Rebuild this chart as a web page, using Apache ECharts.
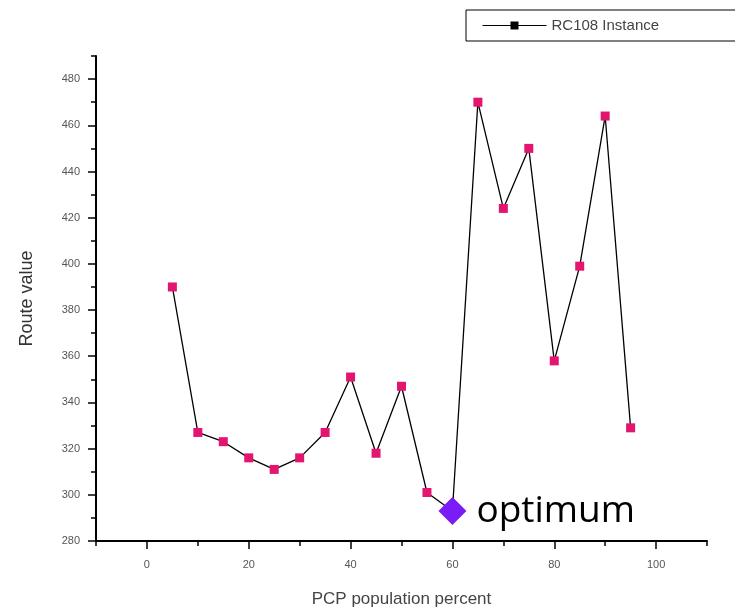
<!DOCTYPE html>
<html>
<head>
<meta charset="utf-8">
<script src="https://cdn.jsdelivr.net/npm/echarts@6/dist/echarts.min.js"></script>
<style>
  html, body { margin: 0; padding: 0; background: #fff; }
  #chart { width: 735px; height: 616px; }
</style>
</head>
<body>
<div id="chart"></div>
<script>
// population percent (x) and route value (y)
const percents = [5, 10, 15, 20, 25, 30, 35, 40, 45, 50, 55, 60, 65, 70, 75, 80, 85, 90, 95];
const routeValues = [390, 327, 323, 316, 311, 316, 327, 351, 318, 347, 301, 293, 470, 424, 450, 358, 399, 464, 329];
const optimumPoint = [60, 293];
const xMajorTicks = [0, 20, 40, 60, 80, 100];
const xMinorTicks = [-10, 10, 30, 50, 70, 90, 110];
const yMajorTicks = [280, 300, 320, 340, 360, 380, 400, 420, 440, 460, 480];
const yMinorTicks = [290, 310, 330, 350, 370, 390, 410, 430, 450, 470, 490];
const seriesName = "RC108 Instance";

const chart = echarts.init(document.getElementById("chart"));

const labelFont = { color: "#555", fontSize: 11, fontFamily: "Liberation Sans" };

const option = {
  backgroundColor: "#fff",
  animation: false,
  grid: { left: 96, right: 28, top: 56, bottom: 75 },
  legend: {
    left: 466,
    top: 10,
    padding: [8, 80, 8, 16],
    borderColor: "#000",
    borderWidth: 1,
    itemWidth: 64,
    itemHeight: 10,
    itemGap: 0,
    textStyle: { color: "#444", fontSize: 15, fontFamily: "Liberation Sans" },
    data: [{ name: seriesName, itemStyle: { color: "#000" }, lineStyle: { color: "#000", width: 1 } }],
  },
  xAxis: [
    {
      type: "value",
      min: -10,
      max: 110,
      name: "PCP population percent",
      nameLocation: "middle",
      nameGap: 50,
      nameTextStyle: { color: "#444", fontSize: 17, fontFamily: "Liberation Sans" },
      axisLine: { onZero: false, lineStyle: { color: "#000", width: 2 } },
      axisTick: { customValues: xMajorTicks, length: 8, lineStyle: { color: "#000", width: 1.5 } },
      axisLabel: { customValues: xMajorTicks, margin: 18, ...labelFont },
      splitLine: { show: false },
    },
    {
      type: "value",
      min: -10,
      max: 110,
      position: "bottom",
      offset: 0,
      axisLine: { show: false, onZero: false },
      axisTick: { customValues: xMinorTicks, length: 5, lineStyle: { color: "#000", width: 1.5 } },
      axisLabel: { show: false },
      splitLine: { show: false },
    },
  ],
  yAxis: [
    {
      type: "value",
      min: 280,
      max: 490,
      name: "Route value",
      nameLocation: "middle",
      nameGap: 60,
      nameTextStyle: { color: "#333", fontSize: 18, fontFamily: "Liberation Sans" },
      axisLine: { show: true, onZero: false, lineStyle: { color: "#000", width: 2 } },
      axisTick: { show: true, customValues: yMajorTicks, length: 8, lineStyle: { color: "#000", width: 1.5 } },
      axisLabel: { customValues: yMajorTicks, margin: 16, ...labelFont },
      splitLine: { show: false },
    },
    {
      type: "value",
      min: 280,
      max: 490,
      position: "left",
      offset: 0,
      axisLine: { show: false, onZero: false },
      axisTick: { show: true, customValues: yMinorTicks, length: 5, lineStyle: { color: "#000", width: 1.5 } },
      axisLabel: { show: false },
      splitLine: { show: false },
    },
  ],
  series: [
    {
      name: seriesName,
      type: "line",
      data: percents.map((p, i) => [p, routeValues[i]]),
      symbol: "rect",
      symbolSize: 9,
      showAllSymbol: true,
      itemStyle: { color: "#e3156f" },
      lineStyle: { color: "#000", width: 1.3 },
      z: 2,
    },
    {
      name: "optimum",
      type: "scatter",
      data: [optimumPoint],
      symbol: "diamond",
      symbolSize: 28,
      itemStyle: { color: "#7a1cf5", opacity: 1 },
      label: {
        show: true,
        position: "right",
        distance: 10,
        formatter: "optimum",
        color: "#000",
        fontSize: 37,
        fontFamily: "Open Sans",
      },
      z: 3,
    },
  ],
};

chart.setOption(option);
</script>
</body>
</html>
